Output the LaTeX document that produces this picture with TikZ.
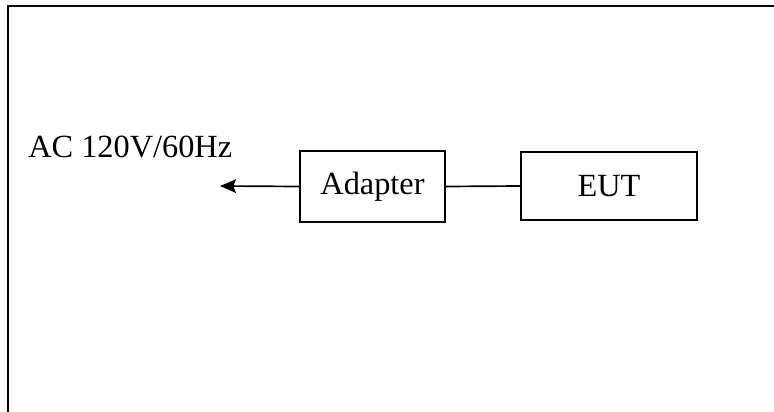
\documentclass[tikz,border=0pt]{standalone}
\usepackage{fontspec}
\setmainfont{Liberation Serif}
\usetikzlibrary{arrows.meta}
\tikzset{
    unitbox/.style={draw, line width=1.2pt, inner sep=0pt, font=\fontsize{23}{27}\selectfont},
    wire/.style={line width=1.2pt}
}
\begin{document}
\begin{tikzpicture}[x=0.025cm, y=-0.025cm, every node/.style={font=\fontsize{23}{27}\selectfont}]
    \useasboundingbox (0,0) rectangle (774,412);
    % outer frame
    \draw[line width=1.7pt] (774,6) -- (8,6) -- (8,412);
    \node[anchor=base west, inner sep=0pt] (acsrc) at (28,158) {AC 120V/60Hz};
    \node[unitbox, minimum width=3.625cm, minimum height=1.775cm] (adapter) at (372.5,186.5) {Adapter};
    \node[unitbox, minimum width=4.4cm, minimum height=1.7cm] (eut) at (609,186) {EUT};
    \coordinate (acin) at (220,186);
    \draw[wire, -{Stealth[length=0.4cm, width=0.34cm, inset=0.07cm]}] (adapter.west) -- (acin);
    \draw[wire] (adapter.east) -- (eut.west);
\end{tikzpicture}
\end{document}
